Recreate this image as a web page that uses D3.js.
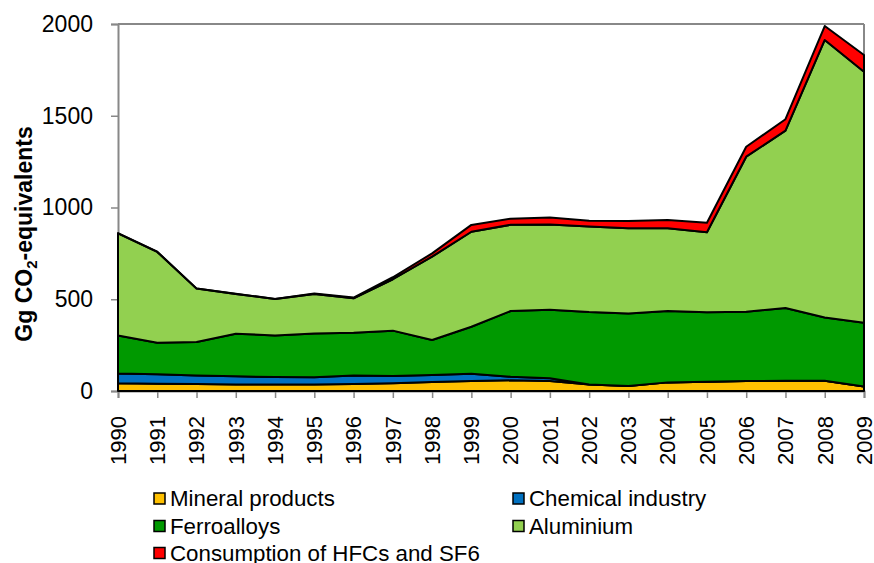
<!DOCTYPE html>
<html>
<head>
<meta charset="utf-8">
<script src="https://cdn.jsdelivr.net/npm/d3@7"></script>
<style>
  html, body { margin: 0; padding: 0; background: #fff; }
  svg { display: block; font-family: "Liberation Sans", Arial, sans-serif; }
</style>
</head>
<body>
<svg id="chart" width="874" height="563"></svg>
<script>
const years = [1990,1991,1992,1993,1994,1995,1996,1997,1998,1999,2000,2001,2002,2003,2004,2005,2006,2007,2008,2009];
const mineralProducts = [42,40,38,35,35,36,38,42,49,54,58,54,36,27,47,51,54,56,56,24];
const chemicalIndustry = [54,51,47,45,41,39,46,40,38,40,20,15,0,0,0,0,0,0,0,0];
const ferroalloys = [206,172,182,232,227,239,234,247,191,256,358,374,394,396,389,378,378,396,345,348];
const aluminium = [557,495,291,217,198,215,187,280,454,518,470,465,466,464,451,436,845,967,1512,1368];
const hfcSf6 = [1,1,1,1,1,2,4,11,18,37,33,38,32,39,45,52,54,62,76,91];
const yTicks = [0,500,1000,1500,2000];

const seriesNames = ["Mineral products","Chemical industry","Ferroalloys","Aluminium","Consumption of HFCs and SF6"];
const seriesValues = [mineralProducts, chemicalIndustry, ferroalloys, aluminium, hfcSf6];
const colors = ["#FFC000","#0070C0","#009900","#92D050","#FF0000"];

const rows = years.map((yr,i) => {
  const r = {year: yr};
  seriesNames.forEach((n,k) => r[n] = seriesValues[k][i]);
  return r;
});

const svg = d3.select("#chart");
const pL = 118, pR = 864, pT = 24, pB = 391;
const x = d3.scaleLinear().domain([1990,2009]).range([pL,pR]);
const y = d3.scaleLinear().domain([0,2000]).range([pB,pT]);

const stacked = d3.stack().keys(seriesNames)(rows);

// frame (top & right)
svg.append("line").attr("x1",pL).attr("x2",pR).attr("y1",pT).attr("y2",pT)
  .attr("stroke","#888").attr("stroke-width",2);
svg.append("line").attr("x1",pR).attr("x2",pR).attr("y1",pT).attr("y2",pB)
  .attr("stroke","#888").attr("stroke-width",2);

// y axis
const yAxis = d3.axisLeft(y).tickValues(yTicks).tickSize(7).tickPadding(18).tickFormat(d3.format("d"));
const gy = svg.append("g").attr("transform",`translate(${pL},0)`).call(yAxis);
gy.select(".domain").attr("stroke","#888").attr("stroke-width",2);
gy.selectAll(".tick line").attr("stroke","#888").attr("stroke-width",1.5);
gy.selectAll(".tick text").attr("font-size","23px").attr("fill","#000")
  .attr("font-family","'Liberation Sans', Arial, sans-serif");

// x axis
const xAxis = d3.axisBottom(x).tickValues(years).tickSize(7).tickFormat(d3.format("d"));
const gx = svg.append("g").attr("transform",`translate(0,${pB})`).call(xAxis);
gx.select(".domain").attr("stroke","#888").attr("stroke-width",2);
gx.selectAll(".tick line").attr("stroke","#888").attr("stroke-width",1.5);
gx.selectAll(".tick text")
  .attr("font-size","22px").attr("fill","#000")
  .attr("font-family","'Liberation Sans', Arial, sans-serif")
  .attr("text-anchor","end")
  .attr("x",0).attr("y",0).attr("dy","0.33em")
  .attr("transform","translate(0,25) rotate(-90)");

// areas
const area = d3.area()
  .x(d => x(d.data.year))
  .y0(d => y(d[0]))
  .y1(d => y(d[1]));

svg.append("g").selectAll("path").data(stacked).join("path")
  .attr("d", area)
  .attr("fill", (d,i) => colors[i])
  .attr("stroke","#000")
  .attr("stroke-width",2)
  .attr("stroke-linejoin","round");

// y title
const title = svg.append("text")
  .attr("transform","translate(32,234) rotate(-90)")
  .attr("text-anchor","middle")
  .attr("font-size","23px").attr("font-weight","bold").attr("fill","#000");
title.append("tspan").text("Gg CO");
title.append("tspan").text("2").attr("font-size","15px").attr("dy","5");
title.append("tspan").text("-equivalents").attr("dy","-5");

// legend
const legendPos = [
  {mx:154, cy:498.5}, {mx:513, cy:498.5},
  {mx:154, cy:526},   {mx:513, cy:526},
  {mx:154, cy:553}
];
const lg = svg.append("g");
seriesNames.forEach((n,i) => {
  const p = legendPos[i];
  lg.append("rect").attr("x",p.mx).attr("y",p.cy-5.5).attr("width",11).attr("height",11)
    .attr("fill",colors[i]).attr("stroke","#000").attr("stroke-width",1.5);
  lg.append("text").attr("x",p.mx+16).attr("y",p.cy).attr("dy","0.35em")
    .attr("font-size","22.3px").attr("fill","#000").text(n);
});
</script>
</body>
</html>
